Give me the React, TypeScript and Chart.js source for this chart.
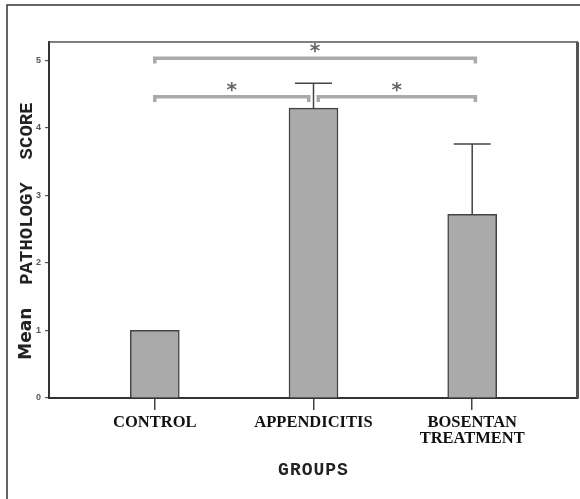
import React, { useEffect, useRef } from "react";
import { Chart, registerables } from "chart.js";

Chart.register(...registerables);

const categories: (string | string[])[] = ["CONTROL", "APPENDICITIS", ["BOSENTAN", "TREATMENT"]];
const means = [1.0, 4.29, 2.72];
const errors = [0, 0.37, 1.04];
const yTicks = [0, 1, 2, 3, 4, 5];
const bracketStart = [0, 0, 1.03];
const bracketEnd = [2.02, 0.97, 2.02];
const bracketLevel = [5.03, 4.46, 4.46];
const bracketDrop = [0.08, 0.08, 0.08];
const yTitleParts = ["Mean", "  PATHOLOGY  SCORE"];
const xTitle = "GROUPS";

const decorPlugin = {
  id: "decor",
  afterDatasetsDraw(chart: any) {
    const { ctx, scales, chartArea } = chart;
    const xs = scales.x;
    const ys = scales.y;
    ctx.save();
    ctx.strokeStyle = "#555";
    ctx.lineWidth = 1.5;
    ctx.beginPath();
    ctx.moveTo(chartArea.left, chartArea.top);
    ctx.lineTo(chartArea.right, chartArea.top);
    ctx.stroke();
    ctx.lineWidth = 3;
    ctx.beginPath();
    ctx.moveTo(chartArea.right - 0.5, chartArea.top);
    ctx.lineTo(chartArea.right - 0.5, chartArea.bottom);
    ctx.stroke();

    ctx.strokeStyle = "#444";
    ctx.lineWidth = 1.5;
    means.forEach((m, i) => {
      const e = errors[i];
      if (!e) return;
      const x = xs.getPixelForValue(i);
      const y0 = ys.getPixelForValue(m);
      const y1 = ys.getPixelForValue(m + e);
      ctx.beginPath();
      ctx.moveTo(x, y0);
      ctx.lineTo(x, y1);
      ctx.moveTo(x - 18.5, y1);
      ctx.lineTo(x + 18.5, y1);
      ctx.stroke();
    });

    ctx.strokeStyle = "#aaaaaa";
    ctx.lineWidth = 3.5;
    ctx.lineJoin = "miter";
    ctx.lineCap = "butt";
    ctx.fillStyle = "#666";
    ctx.font = 'bold 20px "DejaVu Sans"';
    ctx.textAlign = "center";
    ctx.textBaseline = "alphabetic";
    bracketLevel.forEach((lvl, i) => {
      const x1 = xs.getPixelForValue(bracketStart[i]);
      const x2 = xs.getPixelForValue(bracketEnd[i]);
      const yl = ys.getPixelForValue(lvl);
      const yd = ys.getPixelForValue(lvl - bracketDrop[i]);
      ctx.beginPath();
      ctx.moveTo(x1, yd);
      ctx.lineTo(x1, yl);
      ctx.lineTo(x2, yl);
      ctx.lineTo(x2, yd);
      ctx.stroke();
      ctx.fillText("*", (x1 + x2) / 2, yl - 1);
    });
    ctx.restore();
  },
  afterDraw(chart: any) {
    const { ctx, chartArea } = chart;
    ctx.save();
    ctx.strokeStyle = "#333";
    ctx.lineWidth = 1.5;
    ctx.beginPath();
    ctx.moveTo(7, chart.height);
    ctx.lineTo(7, 5);
    ctx.lineTo(chart.width, 5);
    ctx.stroke();

    const fonts = ['bold 17px "DejaVu Sans"', 'bold 19px "Liberation Mono"'];
    ctx.fillStyle = "#222";
    ctx.textBaseline = "middle";
    ctx.textAlign = "left";
    const widths = yTitleParts.map((t, i) => {
      ctx.font = fonts[i];
      return ctx.measureText(t).width;
    });
    const total = widths.reduce((a, b) => a + b, 0);
    ctx.translate(27, (chartArea.top + chartArea.bottom) / 2 + 11);
    ctx.rotate(-Math.PI / 2);
    let pos = -total / 2;
    yTitleParts.forEach((t, i) => {
      ctx.font = fonts[i];
      ctx.fillText(t, pos, 0);
      pos += widths[i];
    });
    ctx.restore();

    ctx.save();
    ctx.fillStyle = "#222";
    ctx.font = 'bold 18px "Liberation Mono"';
    (ctx as any).letterSpacing = "1px";
    ctx.textAlign = "center";
    ctx.textBaseline = "middle";
    ctx.fillText(xTitle, (chartArea.left + chartArea.right) / 2, 470);
    ctx.restore();
  },
};

export default function App() {
  const ref = useRef<HTMLCanvasElement>(null);
  useEffect(() => {
    if (!ref.current) return;
    const chart = new Chart(ref.current, {
      type: "bar",
      data: {
        datasets: [
          {
            data: means.map((v, i) => ({ x: i, y: v })),
            backgroundColor: "#aaaaaa",
            borderColor: "#444",
            borderWidth: 1.5,
            barThickness: 49,
          } as any,
        ],
      },
      options: {
        animation: false,
        responsive: false,
        maintainAspectRatio: false,
        layout: { padding: { top: 42, right: 2, left: 0, bottom: 0 } },
        plugins: { legend: { display: false }, tooltip: { enabled: false } },
        scales: {
          x: {
            type: "linear",
            offset: false,
            min: -2 / 3,
            max: 8 / 3,
            afterBuildTicks: (s: any) => {
              s.ticks = categories.map((_, i) => ({ value: i }));
            },
            afterFit: (s: any) => {
              s.height = 101;
            },
            grid: { offset: false, drawOnChartArea: false, drawTicks: true, tickLength: 12, color: "#444", lineWidth: 1.5 },
            border: { display: true, color: "#333", width: 2 },
            ticks: {
              padding: 4,
              maxRotation: 0,
              autoSkip: false,
              color: "#111",
              font: { family: '"Liberation Serif"', weight: "bold", size: 16.5, lineHeight: 1.0 },
              callback: (_v: any, i: number) => categories[i] as any,
            },
          },
          y: {
            min: 0,
            max: 5.27,
            afterBuildTicks: (s: any) => {
              s.ticks = yTicks.map((v) => ({ value: v }));
            },
            afterFit: (s: any) => {
              s.width = 49;
            },
            grid: { drawOnChartArea: false, drawTicks: true, tickLength: 4, color: "#555", lineWidth: 1.2 },
            border: { display: true, color: "#333", width: 2 },
            ticks: {
              padding: 4,
              color: "#555",
              font: { family: '"Liberation Sans"', weight: "bold", size: 9 },
            },
          },
        },
      },
      plugins: [decorPlugin],
    });
    return () => chart.destroy();
  }, []);
  return (
    <div style={{ position: "fixed", left: 0, top: 0, width: 580, height: 499, background: "#fff" }}>
      <canvas ref={ref} width={580} height={499} style={{ display: "block" }} />
    </div>
  );
}
